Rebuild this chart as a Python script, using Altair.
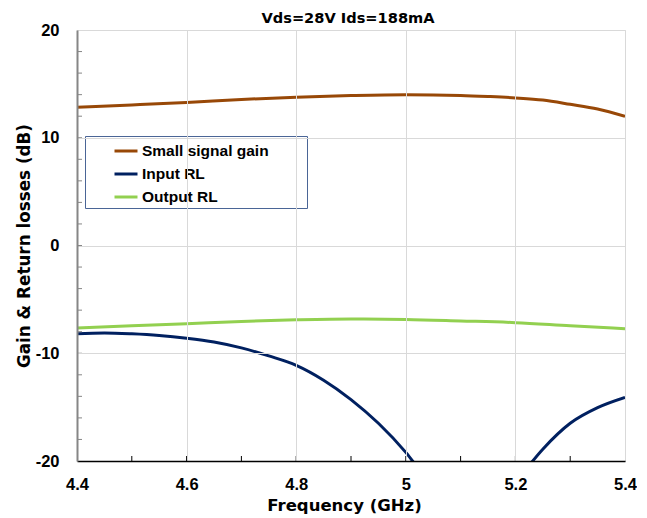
import altair as alt
import pandas as pd

# ---- data ----
freq_gain = [4.4, 4.5, 4.6, 4.7, 4.8, 4.9, 5.0, 5.1, 5.15, 5.2, 5.25, 5.3, 5.35, 5.4]
gain = [12.84, 13.05, 13.28, 13.55, 13.77, 13.92, 14.0, 13.93, 13.83, 13.7, 13.5, 13.1, 12.66, 11.98]

freq_out = [4.4, 4.5, 4.6, 4.7, 4.8, 4.9, 5.0, 5.1, 5.2, 5.3, 5.4]
output_rl = [-7.66, -7.45, -7.26, -7.05, -6.9, -6.82, -6.86, -7.0, -7.16, -7.45, -7.72]

freq_in = [4.4, 4.45, 4.5, 4.55, 4.6, 4.65, 4.7, 4.75, 4.8, 4.85, 4.9, 4.95,
           5.0, 5.05, 5.1, 5.15, 5.2, 5.25, 5.3, 5.35, 5.4]
input_rl = [-8.18, -8.12, -8.2, -8.35, -8.6, -8.95, -9.5, -10.25, -11.12, -12.5, -14.3, -16.5,
            -19.2, -22.5, -25.0, -25.0, -22.0, -18.9, -16.5, -15.05, -14.1]

series_names = ["Small signal gain", "Input RL", "Output RL"]
series_colors = ["#984807", "#002060", "#92D050"]

x_labels = [4.4, 4.6, 4.8, 5.0, 5.2, 5.4]
y_labels = [-20, -10, 0, 10, 20]
x_minor = [4.5, 4.6, 4.7, 4.8, 4.9, 5.0, 5.1, 5.2, 5.3]
y_minor = [-18, -16, -14, -12, -10, -8, -6, -4, -2, 0, 2, 4, 6, 8, 10, 12, 14, 16, 18]

title_text = "Vds=28V Ids=188mA"
x_title = "Frequency (GHz)"
y_title = "Gain & Return losses (dB)"

# ---- tables ----
rows = []
for f, v in zip(freq_gain, gain):
    rows.append({"f": f, "v": v, "s": series_names[0]})
for f, v in zip(freq_in, input_rl):
    rows.append({"f": f, "v": v, "s": series_names[1]})
for f, v in zip(freq_out, output_rl):
    rows.append({"f": f, "v": v, "s": series_names[2]})
df = pd.DataFrame(rows)

W, H = 548, 431
LBL = "Liberation Sans"
TTL = "DejaVu Sans"

xscale = alt.Scale(domain=[4.4, 5.4], nice=False, zero=False)
yscale = alt.Scale(domain=[-20, 20], nice=False, zero=False)

x_axis = alt.Axis(
    values=x_labels, grid=True, gridColor="#D9D9D9", gridWidth=1,
    ticks=False, domainColor="#000000", domainWidth=1.5,
    labelFont=LBL, labelFontWeight="bold", labelFontSize=16.5, labelColor="#000000",
    labelPadding=15, labelExpr="datum.value == 5 ? '5' : format(datum.value, '.1f')",
    labelFlush=False,
    title=x_title, titleFont=TTL, titleFontWeight="bold", titleFontSize=16.5,
    titleColor="#000000", titleX=267, titleY=49, titleBaseline="alphabetic",
    titleAlign="center", zindex=1,
)
y_axis = alt.Axis(
    values=y_labels, grid=True, gridColor="#D9D9D9", gridWidth=1,
    ticks=False, domainColor="#868686", domainWidth=2,
    labelFont=LBL, labelFontWeight="bold", labelFontSize=16.5, labelColor="#000000",
    labelPadding=18, labelFlush=False,
    labelExpr="datum.value < 0 ? '-' + (-datum.value) : '' + datum.value",
    title=y_title, titleFont=TTL, titleFontWeight="bold", titleFontSize=16.8,
    titleColor="#000000", titleX=-53, titleY=H / 2, titleBaseline="middle",
    titleAlign="center", titleAngle=-90, zindex=1,
)

lines = alt.Chart(df).mark_line(strokeWidth=3, interpolate="monotone", clip=True).encode(
    x=alt.X("f:Q", scale=xscale, axis=x_axis),
    y=alt.Y("v:Q", scale=yscale, axis=y_axis),
    color=alt.Color(
        "s:N",
        scale=alt.Scale(domain=series_names, range=series_colors),
        sort=series_names,
        legend=alt.Legend(
            title=None,
            orient="none", legendX=8, legendY=106,
            symbolType="stroke", symbolSize=529, symbolStrokeWidth=3,
            symbolOffset=26, labelOffset=3, rowPadding=1, padding=2,
            labelFont=LBL, labelFontWeight="bold", labelFontSize=15.5,
            labelExpr="datum.label + '\u2800\u2800\u2800'", labelLimit=400,
            labelColor="#000000", fillColor="#FFFFFF", strokeColor="#4A6596",
        ),
    ),
    order=alt.Order("f:Q"),
)

ytick_df = pd.DataFrame({"v": y_minor})
xtick_df = pd.DataFrame({"f": x_minor})

yticks = alt.Chart(ytick_df).mark_rule(color="#868686", strokeWidth=1).encode(
    y=alt.Y("v:Q", scale=yscale), x=alt.value(0), x2=alt.value(5)
)
xticks = alt.Chart(xtick_df).mark_rule(color="#000000", strokeWidth=1).encode(
    x=alt.X("f:Q", scale=xscale), y=alt.value(H), y2=alt.value(H - 5)
)

chart = alt.layer(lines, yticks, xticks).properties(
    width=W, height=H,
    title=alt.TitleParams(
        title_text, font=TTL, fontWeight="bold", fontSize=14.6, color="#000000",
        anchor="middle", frame="group", offset=8, baseline="bottom", dx=-3, dy=26.5,
    ),
    autosize=alt.AutoSizeParams(type="none"),
    padding={"left": 69, "top": 22, "right": 12, "bottom": 54},
).configure_view(stroke=None).configure(background="#FFFFFF")

chart.save("out.html", embed_options={"renderer": "svg", "actions": False})
